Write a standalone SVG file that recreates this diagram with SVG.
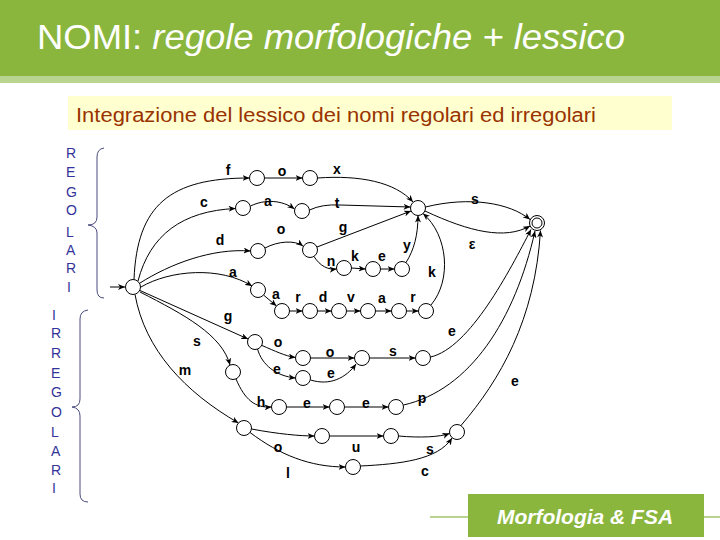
<svg xmlns="http://www.w3.org/2000/svg" width="720" height="540" viewBox="0 0 720 540">
<defs>
<marker id="arr" markerUnits="userSpaceOnUse" markerWidth="8" markerHeight="6" refX="7" refY="3" orient="auto">
<path d="M0,0 L7,3 L0,6 L2,3 z" fill="#000"/>
</marker>
<style>
.n{fill:#fff;stroke:#000;stroke-width:1}
.e{fill:none;stroke:#000;stroke-width:1;marker-end:url(#arr)}
.l{font-family:"Liberation Sans",Arial,sans-serif;font-weight:bold;font-size:14px;text-anchor:middle;fill:#000}
.side{font-family:"Liberation Sans",Arial,sans-serif;font-size:14px;fill:#333399}
.br{fill:none;stroke:#4a4a80;stroke-width:1}
</style>
</defs>
<rect width="720" height="540" fill="#fff"/>
<g id="header">
<rect x="0" y="0" width="720" height="76" fill="#8ab63d"/>
<rect x="0" y="76" width="720" height="7" fill="#b8d48f"/>
<text x="37" y="49" font-family="'Liberation Sans',Arial,sans-serif" font-size="35" fill="#fff" textLength="588" lengthAdjust="spacingAndGlyphs">NOMI: <tspan font-style="italic">regole morfologiche + lessico</tspan></text>
</g>
<g id="subtitle">
<rect x="68" y="96" width="604" height="34" fill="#ffffcf"/>
<text x="76" y="122" font-family="'Liberation Sans',Arial,sans-serif" font-size="20" fill="#993300" textLength="520" lengthAdjust="spacingAndGlyphs">Integrazione del lessico dei nomi regolari ed irregolari</text>
</g>
<g id="footer">
<line x1="430" y1="517" x2="720" y2="517" stroke="#b8d48f" stroke-width="2"/>
<rect x="468" y="494" width="236" height="43" fill="#8ab63d"/>
<text x="585" y="524" font-family="'Liberation Sans',Arial,sans-serif" font-size="21" font-style="italic" font-weight="bold" fill="#fff" text-anchor="middle">Morfologia &amp; FSA</text>
</g>
<g id="regolari">
<text class="side" x="66" y="158">R</text>
<text class="side" x="66" y="177">E</text>
<text class="side" x="66" y="197">G</text>
<text class="side" x="66" y="215">O</text>
<text class="side" x="66" y="237">L</text>
<text class="side" x="66" y="255">A</text>
<text class="side" x="66" y="273">R</text>
<text class="side" x="67" y="292">I</text>
<path class="br" d="M104,148 Q97,149 97,157 L97,217 Q97,225 88,225 Q97,226 97,233 L97,290 Q97,298 104,298"/>
</g>
<g id="irregolari">
<text class="side" x="52" y="320">I</text>
<text class="side" x="51" y="338">R</text>
<text class="side" x="51" y="358">R</text>
<text class="side" x="51" y="378">E</text>
<text class="side" x="51" y="397">G</text>
<text class="side" x="51" y="417">O</text>
<text class="side" x="51" y="437">L</text>
<text class="side" x="51" y="456">A</text>
<text class="side" x="51" y="475">R</text>
<text class="side" x="52" y="493">I</text>
<path class="br" d="M88,310 Q80,311 80,319 L80,399 Q80,407 72,407 Q80,408 80,416 L80,494 Q80,502 88,502"/>
</g>
<g id="connectors">
<path class="e" d="M110,287 L125,287"/>
<path class="e" d="M134,279.5 C137,205 170,178 249.5,178"/>
<path class="e" d="M138,281 C150,235 182,211 235.5,208.5"/>
<path class="e" d="M140,283 C170,264 212,248 250.5,251"/>
<path class="e" d="M141,287 C170,270 220,266 252,286"/>
<path class="e" d="M140,290.5 L248,339"/>
<path class="e" d="M140,292 C185,315 222,335 230,365"/>
<path class="e" d="M135,294.5 C145,350 185,392 238.5,423"/>
<path class="e" d="M264.5,178 L302.5,178"/>
<path class="e" d="M250.5,206 C265,199 282,200 294.5,209"/>
<path class="e" d="M265,248 C278,241 295,240 303,246"/>
<path class="e" d="M317.5,178 C360,175 395,182 413,202"/>
<path class="e" d="M309.5,210 Q322,204 340,205 L410.5,207"/>
<path class="e" d="M317,247 L411,211"/>
<path class="e" d="M314,256.5 C320,266 328,270 336.5,269"/>
<path class="e" d="M351.5,268 L365.5,269"/>
<path class="e" d="M380.5,269 L394.5,269"/>
<path class="e" d="M406,262.5 C414,250 418,235 418,215.5"/>
<path class="e" d="M431,305 C452,280 448,235 423,213.5"/>
<path class="e" d="M425.5,207 C470,196 510,203 530,219.5"/>
<path class="e" d="M425,211 C470,232 505,240 530,226"/>
<path class="e" d="M263.5,295 L276.5,306"/>
<path class="e" d="M289.5,311 L302.5,311"/>
<path class="e" d="M317.5,311 L331.5,311"/>
<path class="e" d="M346.5,311 L360.5,311"/>
<path class="e" d="M375.5,311 L391.5,311"/>
<path class="e" d="M406.5,311 L418.5,311"/>
<path class="e" d="M262,345.5 C275,351 285,356 295.5,357.5"/>
<path class="e" d="M257.5,349 C262,365 276,376 295.5,378"/>
<path class="e" d="M310.5,358 L354.5,358"/>
<path class="e" d="M310.5,380 C330,386 346,378 356,364"/>
<path class="e" d="M369.5,358 L415.5,358"/>
<path class="e" d="M430.5,357 C470,348 510,270 531,229.5"/>
<path class="e" d="M236,379 C245,400 255,408 271.5,407"/>
<path class="e" d="M286.5,407 L329.5,407"/>
<path class="e" d="M344.5,407 L388.5,407"/>
<path class="e" d="M403.5,405 C470,390 515,320 535,231"/>
<path class="e" d="M251.5,429 C278,434 300,436 314.5,436"/>
<path class="e" d="M329.5,436 L383.5,436"/>
<path class="e" d="M398.5,436 C420,438 440,437 449.5,433.5"/>
<path class="e" d="M250,432.5 C280,455 310,467 345.5,467"/>
<path class="e" d="M360.5,466 C400,464 438,460 452,438"/>
<path class="e" d="M461,425.5 C500,380 535,320 540.5,230.5"/>
</g>
<g id="labels">
<text class="l" x="228" y="175">f</text>
<text class="l" x="282" y="176">o</text>
<text class="l" x="337" y="174">x</text>
<text class="l" x="204" y="207">c</text>
<text class="l" x="268" y="206">a</text>
<text class="l" x="337" y="208">t</text>
<text class="l" x="475" y="204">s</text>
<text class="l" x="220" y="245">d</text>
<text class="l" x="281" y="234">o</text>
<text class="l" x="343" y="232">g</text>
<text class="l" x="472" y="249">ε</text>
<text class="l" x="331" y="266">n</text>
<text class="l" x="355" y="261">k</text>
<text class="l" x="382" y="261">e</text>
<text class="l" x="407" y="250">y</text>
<text class="l" x="432" y="277">k</text>
<text class="l" x="233" y="277">a</text>
<text class="l" x="276" y="299">a</text>
<text class="l" x="298" y="302">r</text>
<text class="l" x="323" y="302">d</text>
<text class="l" x="351" y="302">v</text>
<text class="l" x="382" y="303">a</text>
<text class="l" x="413" y="302">r</text>
<text class="l" x="228" y="321">g</text>
<text class="l" x="197" y="346">s</text>
<text class="l" x="185" y="375">m</text>
<text class="l" x="452" y="336">e</text>
<text class="l" x="278" y="347">o</text>
<text class="l" x="277" y="374">e</text>
<text class="l" x="330" y="357">o</text>
<text class="l" x="331" y="378">e</text>
<text class="l" x="393" y="356">s</text>
<text class="l" x="261" y="407">h</text>
<text class="l" x="307" y="408">e</text>
<text class="l" x="366" y="408">e</text>
<text class="l" x="422" y="403">p</text>
<text class="l" x="515" y="386">e</text>
<text class="l" x="278" y="452">o</text>
<text class="l" x="356" y="452">u</text>
<text class="l" x="430" y="454">s</text>
<text class="l" x="288" y="478">l</text>
<text class="l" x="425" y="476">c</text>
</g>
<g id="nodes">
<circle id="S" class="n" cx="133" cy="287" r="7.5"/>
<circle id="F1" class="n" cx="257" cy="178" r="7.5"/>
<circle id="F2" class="n" cx="310" cy="178" r="7.5"/>
<circle id="C1" class="n" cx="243" cy="208" r="7.5"/>
<circle id="C2" class="n" cx="302" cy="211" r="7.5"/>
<circle id="D1" class="n" cx="258" cy="251" r="7.5"/>
<circle id="D2" class="n" cx="310" cy="250" r="7.5"/>
<circle id="H" class="n" cx="418" cy="208" r="7.5"/>
<g id="FIN"><circle class="n" cx="537" cy="223" r="7.5"/><circle class="n" cx="537" cy="223" r="5"/></g>
<circle id="N1" class="n" cx="344" cy="268" r="7.5"/>
<circle id="N2" class="n" cx="373" cy="269" r="7.5"/>
<circle id="N3" class="n" cx="402" cy="269" r="7.5"/>
<circle id="A1" class="n" cx="258" cy="290" r="7.5"/>
<circle id="R0" class="n" cx="282" cy="311" r="7.5"/>
<circle id="R1" class="n" cx="310" cy="311" r="7.5"/>
<circle id="R2" class="n" cx="339" cy="311" r="7.5"/>
<circle id="R3" class="n" cx="368" cy="311" r="7.5"/>
<circle id="R4" class="n" cx="399" cy="311" r="7.5"/>
<circle id="R5" class="n" cx="426" cy="311" r="7.5"/>
<circle id="G1" class="n" cx="255" cy="342" r="7.5"/>
<circle id="O1" class="n" cx="303" cy="358" r="7.5"/>
<circle id="E1" class="n" cx="303" cy="378" r="7.5"/>
<circle id="O2" class="n" cx="362" cy="358" r="7.5"/>
<circle id="O3" class="n" cx="423" cy="358" r="7.5"/>
<circle id="S1" class="n" cx="233" cy="372" r="7.5"/>
<circle id="H1" class="n" cx="279" cy="407" r="7.5"/>
<circle id="H2" class="n" cx="337" cy="407" r="7.5"/>
<circle id="H3" class="n" cx="396" cy="407" r="7.5"/>
<circle id="M1" class="n" cx="244" cy="428" r="7.5"/>
<circle id="M2" class="n" cx="322" cy="436" r="7.5"/>
<circle id="M3" class="n" cx="391" cy="436" r="7.5"/>
<circle id="M4" class="n" cx="457" cy="432" r="7.5"/>
<circle id="L1" class="n" cx="353" cy="467" r="7.5"/>
</g>
</svg>
